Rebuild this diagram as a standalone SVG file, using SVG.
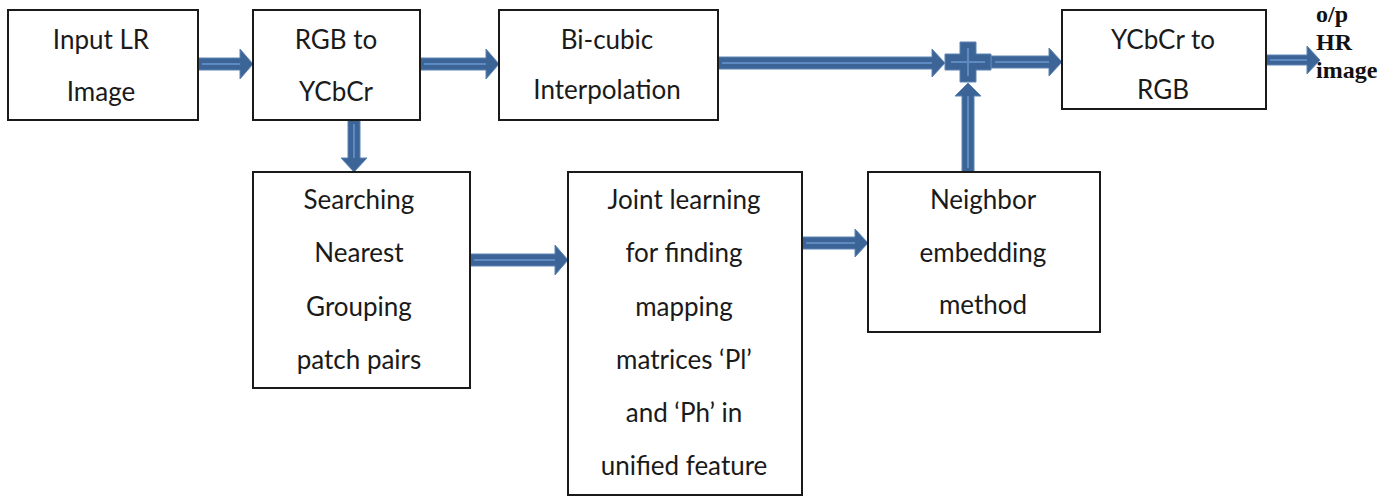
<svg xmlns="http://www.w3.org/2000/svg" width="1398" height="497" viewBox="0 0 1398 497">
<style>
.box{fill:#fff;stroke:#1a1a1a;stroke-width:2}
.t{font-family:Lato,"Open Sans",sans-serif;font-size:26px;fill:#1a1a1a;text-anchor:middle}
.o{font-family:"Liberation Serif",serif;font-size:24px;font-weight:bold;fill:#111}
.ar{fill:#3c6497;stroke:#5d85b5;stroke-width:1}
.hl{stroke:#5e8ac2;stroke-width:2;fill:none}
</style>
<rect width="1398" height="497" fill="#fff"/>
<g id="connectors">
  <polygon class="ar" points="198,58 240,58 240,49 253,64 240,79 240,70 198,70"/>
  <line class="hl" x1="202" y1="64" x2="240" y2="64"/>
  <polygon class="ar" points="420,58 486,58 486,49 499,64 486,79 486,70 420,70"/>
  <line class="hl" x1="424" y1="64" x2="486" y2="64"/>
  <polygon class="ar" points="718,57 932,57 932,49 945,63 932,77 932,69 718,69"/>
  <line class="hl" x1="722" y1="63" x2="932" y2="63"/>
  <polygon class="ar" points="991,56 1049,56 1049,48 1062,62 1049,76 1049,68 991,68"/>
  <line class="hl" x1="995" y1="62" x2="1049" y2="62"/>
  <polygon class="ar" points="1266,55 1307,55 1307,46 1320,60 1307,74 1307,65 1266,65"/>
  <line class="hl" x1="1270" y1="60" x2="1307" y2="60"/>
  <polygon class="ar" points="348,120 348,158 341,158 354,172 367,158 360,158 360,120"/>
  <line class="hl" x1="354" y1="124" x2="354" y2="158"/>
  <polygon class="ar" points="470,254 555,254 555,245 568,260 555,275 555,266 470,266"/>
  <line class="hl" x1="474" y1="260" x2="555" y2="260"/>
  <polygon class="ar" points="802,237 855,237 855,229 868,243 855,257 855,249 802,249"/>
  <line class="hl" x1="806" y1="243" x2="855" y2="243"/>
  <polygon class="ar" points="962,172 962,96 955,96 968,83 981,96 974,96 974,172"/>
  <line class="hl" x1="968" y1="168" x2="968" y2="96"/>
  <polygon class="ar" points="960,42 976,42 976,54 991,54 991,70 976,70 976,82 960,82 960,70 945,70 945,54 960,54"/>
  <path class="hl" d="M968,48 V76 M951,62 H985"/>
</g>
<g id="n1"><rect class="box" x="8" y="10" width="190" height="110"/><text class="t" x="101" y="49">Input LR</text><text class="t" x="101" y="101">Image</text></g>
<g id="n2"><rect class="box" x="253" y="10" width="167" height="110"/><text class="t" x="336" y="49">RGB to</text><text class="t" x="336" y="101">YCbCr</text></g>
<g id="n3"><rect class="box" x="499" y="10" width="219" height="110"/><text class="t" x="607" y="49">Bi-cubic</text><text class="t" x="607" y="99">Interpolation</text></g>
<g id="n4"><rect class="box" x="1062" y="10" width="204" height="99"/><text class="t" x="1163" y="49">YCbCr to</text><text class="t" x="1163" y="99">RGB</text></g>
<g id="n5"><rect class="box" x="253" y="172" width="217" height="216"/><text class="t" x="359" y="209">Searching</text><text class="t" x="359" y="262">Nearest</text><text class="t" x="359" y="316">Grouping</text><text class="t" x="359" y="369">patch pairs</text></g>
<g id="n6"><rect class="box" x="568" y="172" width="234" height="323"/><text class="t" x="684" y="209">Joint learning</text><text class="t" x="684" y="262">for finding</text><text class="t" x="684" y="316">mapping</text><text class="t" x="684" y="369">matrices ‘Pl’</text><text class="t" x="684" y="422">and ‘Ph’ in</text><text class="t" x="684" y="475">unified feature</text></g>
<g id="n7"><rect class="box" x="868" y="172" width="232" height="160"/><text class="t" x="983" y="209">Neighbor</text><text class="t" x="983" y="262">embedding</text><text class="t" x="983" y="314">method</text></g>
<g id="out"><text class="o" x="1316" y="22">o/p</text><text class="o" x="1316" y="50">HR</text><text class="o" x="1316" y="78">image</text></g>
</svg>
